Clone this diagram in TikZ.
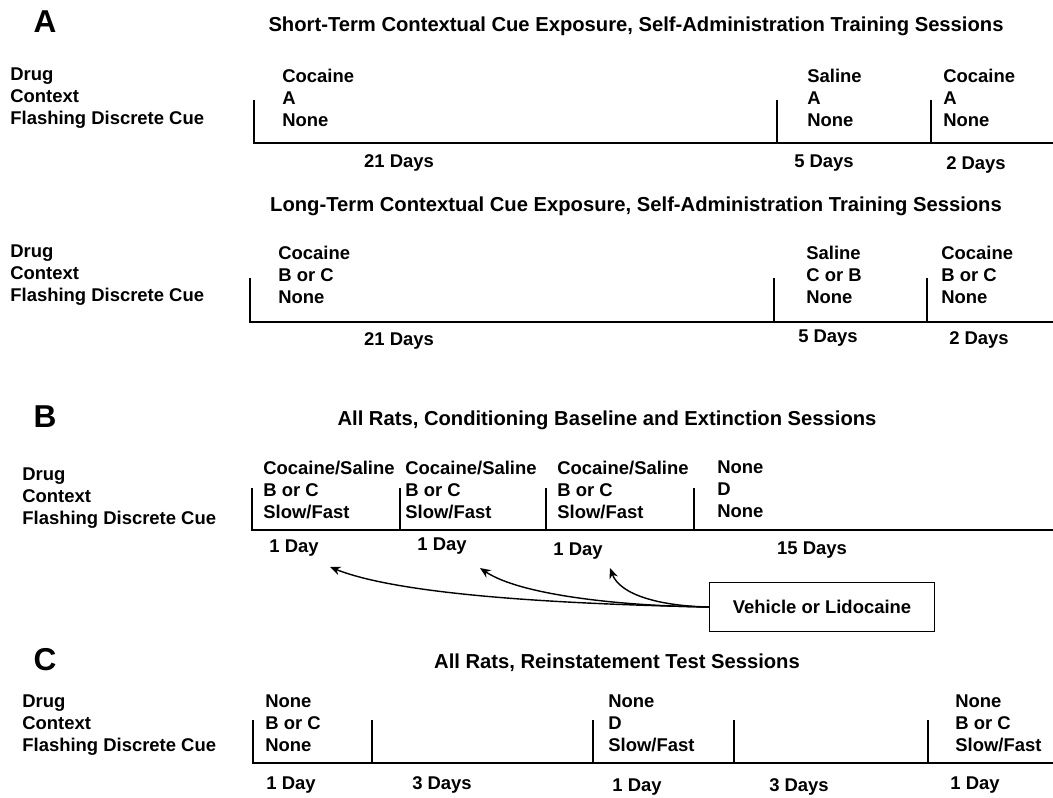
\documentclass[tikz,border=0pt]{standalone}
\usepackage{fontspec}
\setmainfont{Liberation Sans}
\usetikzlibrary{arrows.meta,positioning}

\begin{document}
\begin{tikzpicture}[>={Stealth[length=6pt,width=5pt]}, x=0.02cm, y=-0.02cm,
    every node/.style={inner sep=0pt, font=\bfseries\fontsize{10.5}{12.5}\selectfont},
    rowlbl/.style={anchor=west, align=left},
    sess/.style={anchor=west, align=left},
    ttl/.style={font=\bfseries\fontsize{11.5}{13}\selectfont},
    panel/.style={font=\bfseries\fontsize{18}{20}\selectfont},
    tline/.style={line width=0.8pt}]

    \useasboundingbox (0,0) rectangle (1053,797);

    % Panneau A : exposition courte
    \node[panel] (pA) at (45,22) {A};
    \node[ttl] (tA1) at (636,26) {Short-Term Contextual Cue Exposure, Self-Administration Training Sessions};
    \node[rowlbl] (rA1) at (10,98) {Drug\\Context\\Flashing Discrete Cue};
    \node[sess] (sA11) at (282,98) {Cocaine\\A\\None};
    \node[sess] (sA12) at (807,98) {Saline\\A\\None};
    \node[sess] (sA13) at (943,98) {Cocaine\\A\\None};
    \draw[tline] (254,100) -- (254,143) -- (1053,143);
    \draw[tline] (777,100) -- (777,143) (931,100) -- (931,143);
    \node (dA11) at (399,163) {21 Days};
    \node (dA12) at (824,163) {5 Days};
    \node (dA13) at (976,165) {2 Days};

    % Panneau A : exposition longue
    \node[ttl] (tA2) at (636,206) {Long-Term Contextual Cue Exposure, Self-Administration Training Sessions};
    \node[rowlbl] (rA2) at (10,275) {Drug\\Context\\Flashing Discrete Cue};
    \node[sess] (sA21) at (278,275) {Cocaine\\B or C\\None};
    \node[sess] (sA22) at (806,275) {Saline\\C or B\\None};
    \node[sess] (sA23) at (941,275) {Cocaine\\B or C\\None};
    \draw[tline] (250,278) -- (250,322) -- (1053,322);
    \draw[tline] (774,278) -- (774,322) (927,278) -- (927,322);
    \node (dA21) at (399,341) {21 Days};
    \node (dA22) at (828,338) {5 Days};
    \node (dA23) at (979,340) {2 Days};

    % Panneau B : conditionnement et extinction
    \node[panel] (pB) at (45,417) {B};
    \node[ttl] (tB) at (607,420) {All Rats, Conditioning Baseline and Extinction Sessions};
    \node[rowlbl] (rB) at (22,498) {Drug\\Context\\Flashing Discrete Cue};
    \node[sess] (sB1) at (263,490) {Cocaine/Saline\\B or C\\Slow/Fast};
    \node[sess] (sB2) at (405,490) {Cocaine/Saline\\B or C\\Slow/Fast};
    \node[sess] (sB3) at (557,490) {Cocaine/Saline\\B or C\\Slow/Fast};
    \node[sess] (sB4) at (717,489) {None\\D\\None};
    \draw[tline] (252,488) -- (252,530) -- (1053,530);
    \draw[tline] (400,488) -- (400,530) (546,488) -- (546,530) (694,488) -- (694,530);
    \node (dB1) at (294,548) {1 Day};
    \node (dB2) at (442,546) {1 Day};
    \node (dB3) at (578,551) {1 Day};
    \node (dB4) at (812,550) {15 Days};

    % Boîte injection
    \node[draw, line width=0.8pt, minimum width=4.5cm, minimum height=0.98cm] (vl) at (822,607) {Vehicle or Lidocaine};
    \coordinate (aB1) at (330,567);
    \coordinate (aB2) at (480,568);
    \coordinate (aB3) at (610,568);
    \draw[->, line width=0.8pt] (vl.west) .. controls (560,604) and (400,595) .. (aB1);
    \draw[->, line width=0.8pt] (vl.west) .. controls (620,606) and (520,595) .. (aB2);
    \draw[->, line width=0.8pt] (vl.west) .. controls (660,606) and (620,595) .. (aB3);

    % Panneau C : tests de réinstallation
    \node[panel] (pC) at (45,660) {C};
    \node[ttl] (tC) at (617,663) {All Rats, Reinstatement Test Sessions};
    \node[rowlbl] (rC) at (22,725) {Drug\\Context\\Flashing Discrete Cue};
    \node[sess] (sC1) at (265,723) {None\\B or C\\None};
    \node[sess] (sC2) at (608,723) {None\\D\\Slow/Fast};
    \node[sess] (sC3) at (955,723) {None\\B or C\\Slow/Fast};
    \draw[tline] (253,720) -- (253,763) -- (1053,763);
    \draw[tline] (372,720) -- (372,763) (593,720) -- (593,763) (734,720) -- (734,763) (928,720) -- (928,763);
    \node (dC1) at (291,785) {1 Day};
    \node (dC2) at (442,785) {3 Days};
    \node (dC3) at (637,787) {1 Day};
    \node (dC4) at (799,787) {3 Days};
    \node (dC5) at (975,785) {1 Day};
\end{tikzpicture}
\end{document}
